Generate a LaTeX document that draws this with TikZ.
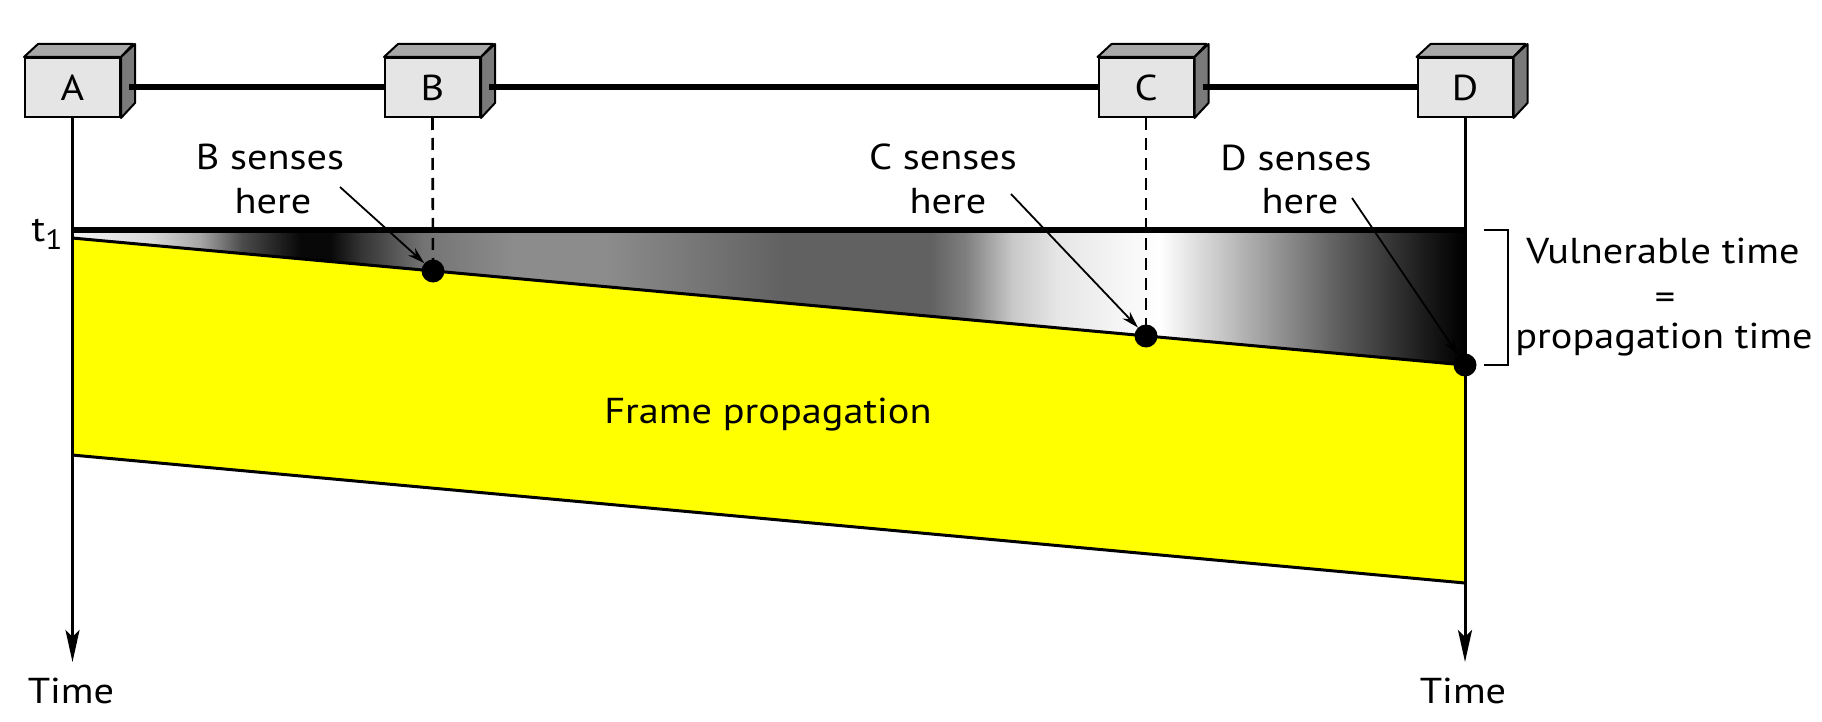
\documentclass[tikz,border=0pt]{standalone}
\usepackage{fontspec}
\setmainfont{PT Sans}[FakeStretch=1.12]
\usetikzlibrary{arrows.meta}
\definecolor{boxfront}{gray}{0.9}
\definecolor{boxtop}{gray}{0.66}
\definecolor{boxside}{gray}{0.48}
\definecolor{frameyellow}{RGB}{255,255,0}
\tikzset{
  lbl/.style={font=\fontsize{36}{43}\selectfont, inner sep=0pt},
  station/.style={draw, line width=2pt, fill=boxfront, minimum width=95pt, minimum height=59pt, inner sep=0pt, font=\fontsize{36}{43}\selectfont},
  face/.style={draw, line width=2pt, line join=round},
  dot/.style={circle, fill=black, minimum size=23pt, inner sep=0pt},
  timeline/.style={line width=3pt, -{Stealth[length=32pt, width=14pt, inset=7pt]}},
  pointer/.style={line width=1.8pt, -{Stealth[length=17pt, width=10pt]}},
  busline/.style={line width=6pt},
  dashline/.style={line width=2.6pt, dash pattern=on 12pt off 8pt},
}
\newcommand\stationbox[3]{%
  \node[station] (#1) at (#2,87.5) {#3};
  \filldraw[face, fill=boxtop] (#1.north west) -- ++(14,-13) -- ++(95,0) -- (#1.north east) -- cycle;
  \filldraw[face, fill=boxside] (#1.north east) -- ++(14,-13) -- ++(0,59) -- (#1.south east) -- cycle;
}
\begin{document}
\begin{tikzpicture}[x=1pt, y=-1pt]
\useasboundingbox (0,0) rectangle (1822,722);

% frame propagation (yellow)
\fill[frameyellow] (72,238) -- (1465,365) -- (1465,583) -- (72,455) -- cycle;

% vulnerable region gradient
\begin{scope}
\clip (72,230) -- (1465,230) -- (1465,365) -- (72,238) -- cycle;
\foreach \xa/\ga/\xb/\gb in {72/95/150/85, 150/85/200/65, 200/65/241/30, 241/30/300/3, 300/3/330/3, 330/3/360/20, 360/20/422/45, 422/45/513/55, 513/55/603/55, 603/55/680/48, 680/48/785/38, 785/38/930/38, 930/38/966/50, 966/50/1011/78, 1011/78/1056/90, 1056/90/1160/100, 1160/100/1237/72, 1237/72/1328/40, 1328/40/1419/12, 1419/12/1455/2, 1455/2/1466/0}
  \shade[left color=white!\ga!black, right color=white!\gb!black] (\xa,225) rectangle (\xb+0.7,370);
\end{scope}

% stations
\stationbox{A}{72.5}{A}
\stationbox{B}{432.5}{B}
\stationbox{C}{1146}{C}
\stationbox{D}{1465}{D}

% bus
\draw[busline] ([xshift=8pt]A.east) -- (B.west);
\draw[busline] ([xshift=8pt]B.east) -- (C.west);
\draw[busline] ([xshift=8pt]C.east) -- (D.west);

% time lines
\coordinate (endA) at (72.5,662);
\coordinate (endD) at (1465,662);
\draw[timeline] (A.south) -- (endA);
\draw[timeline] (D.south) -- (endD);

% edges of regions
\draw[line width=5.5pt] (72,230) -- (1465,230);
\draw[line width=3pt] (72,238) -- (1465,365);
\draw[line width=3pt] (72,455) -- (1465,583);

% sensing points
\node[dot] (dB) at (433,271) {};
\node[dot] (dC) at (1146,336) {};
\node[dot] (dD) at (1465,365) {};
\draw[dashline] (B.south) -- (dB.center);
\draw[dashline] (C.south) -- (dC.center);

% labels
\node[lbl, anchor=base] (bs1) at (270,170) {B senses};
\node[lbl, anchor=base] (bs2) at (273,213) {here};
\node[lbl, anchor=base] (cs1) at (943,170) {C senses};
\node[lbl, anchor=base] (cs2) at (948,213) {here};
\node[lbl, anchor=base] (ds1) at (1296,171) {D senses};
\node[lbl, anchor=base] (ds2) at (1300,213) {here};

\coordinate (pB) at (340,187);
\coordinate (pC) at (1011,194);
\coordinate (pD) at (1352,198);
\draw[pointer] (pB) -- (dB);
\draw[pointer] (pC) -- (dC);
\draw[pointer] (pD) -- (dD);

% bracket
\draw[line width=1.8pt] (1484,230) -- (1508,230) -- (1508,365) -- (1484,365);
\node[lbl, anchor=base] (v1) at (1663,263) {Vulnerable time};
\node[lbl] (v2) at (1665,301) {=};
\node[lbl, anchor=base] (v3) at (1664,348) {propagation time};

\node[lbl, anchor=base] (fp) at (768,423) {Frame propagation};
\node[lbl, anchor=base] (tA) at (71,703) {Time};
\node[lbl, anchor=base] (tD) at (1463,703) {Time};
\node[lbl, anchor=base] (t1) at (47,241) {t\raisebox{-8pt}{\fontsize{28}{28}\selectfont 1}};
\end{tikzpicture}
\end{document}
